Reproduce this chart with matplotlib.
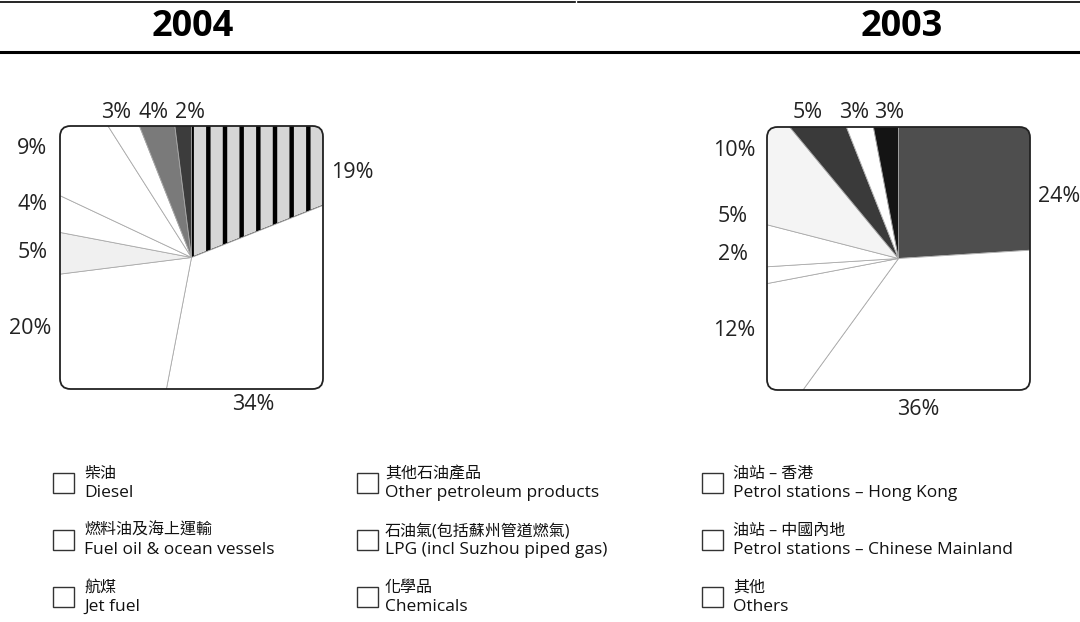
import matplotlib as mpl
import matplotlib.pyplot as plt
from matplotlib.patches import FancyBboxPatch, Rectangle
from matplotlib.lines import Line2D

# data
cats_en = ['Diesel', 'Fuel oil & ocean vessels', 'Jet fuel',
           'Other petroleum products', 'LPG (incl Suzhou piped gas)', 'Chemicals',
           'Petrol stations – Hong Kong', 'Petrol stations – Chinese Mainland', 'Others']
cats_zh = ['柴油', '燃料油及海上運輸', '航煤',
           '其他石油產品', '石油氣(包括蘇州管道燃氣)', '化學品',
           '油站 – 香港', '油站 – 中國內地', '其他']
share_2004 = [19, 34, 20, 5, 4, 9, 3, 4, 2]
share_2003 = [24, 36, 12, 2, 5, 10, 5, 3, 3]

# look of the (scanned) wedges: facecolor, hatch
style_2004 = [('#d6d6d6', '|'), ('white', None), ('white', None), ('#f0f0f0', None),
              ('white', None), ('white', None), ('white', None), ('#7a7a7a', None),
              ('#3c3c3c', None)]
style_2003 = [('#4e4e4e', None), ('white', None), ('white', None), ('white', None),
              ('white', None), ('#f4f4f4', None), ('#3a3a3a', None), ('white', None),
              ('#141414', None)]

# where the percentage labels sit, in box units (box spans -1..1)
lab_2004 = [(1.22, 0.65), (0.47, -1.12), (-1.23, -0.54), (-1.21, 0.04), (-1.21, 0.40),
            (-1.21, 0.83), (-0.57, 1.10), (-0.29, 1.10), (-0.01, 1.10)]
lab_2003 = [(1.22, 0.47), (0.15, -1.15), (-1.25, -0.55), (-1.26, 0.03), (-1.26, 0.32),
            (-1.25, 0.82), (-0.69, 1.11), (-0.34, 1.11), (-0.07, 1.11)]

W, H = 1080, 622
mpl.rcParams['hatch.linewidth'] = 3.2
fig = plt.figure(figsize=(W / 100, H / 100), dpi=100)

latin = 'Open Sans'
mixed = ['Open Sans', 'Noto Sans CJK TC', 'DejaVu Sans']


def square_pie(left, top, size, values, styles, label_pos):
    ax = fig.add_axes([left / W, 1 - (top + size) / H, size / W, size / H])
    wedges, _ = ax.pie(values, startangle=90, counterclock=False, radius=1.6,
                       colors=[s[0] for s in styles],
                       wedgeprops=dict(linewidth=0.6, edgecolor='#aaaaaa'))
    ax.set_xlim(-1, 1)
    ax.set_ylim(-1, 1)
    ax.set_aspect('auto')
    box = FancyBboxPatch((-1, -1), 2, 2, boxstyle='round,pad=0,rounding_size=0.08',
                         transform=ax.transData, facecolor='none')
    for w, (fc, hatch) in zip(wedges, styles):
        if hatch:
            w.set_hatch(hatch)
            w.set_edgecolor('black')
            w.set_linewidth(0.8)
        w.set_clip_on(True)
        w.set_clip_path(box)
    ax.add_patch(FancyBboxPatch((-1, -1), 2, 2, boxstyle='round,pad=0,rounding_size=0.08',
                                facecolor='none', edgecolor='#222222', lw=1.3,
                                clip_on=False, zorder=5))
    for v, (u, y) in zip(values, label_pos):
        ax.text(u, y, f'{v}%', ha='center', va='center', fontsize=15.5,
                family=latin, color='#222222', clip_on=False)
    ax.axis('off')


square_pie(60, 126, 263, share_2004, style_2004, lab_2004)
square_pie(767, 127, 263, share_2003, style_2003, lab_2003)

# header band
for y, lw in [(1.5, 1.2), (51.5, 2.2)]:
    fig.add_artist(Line2D([0, 0.532], [1 - y / H] * 2, color='black', lw=lw))
    fig.add_artist(Line2D([0.535, 1], [1 - y / H] * 2, color='black', lw=lw))
fig.text(193 / W, 1 - 27 / H, '2004', ha='center', va='center', fontsize=26,
         fontweight='bold', family=latin)
fig.text(902 / W, 1 - 27 / H, '2003', ha='center', va='center', fontsize=26,
         fontweight='bold', family=latin)

# legend, three columns
box_x = [53, 357, 702]
text_x = [84, 385, 733]
for i, (en, zh) in enumerate(zip(cats_en, cats_zh)):
    col, row = divmod(i, 3)
    yc = 474 + 57 * row
    ye = yc + 19
    fig.add_artist(Rectangle((box_x[col] / W, 1 - ye / H), 21 / W, (ye - yc + 1) / H,
                             transform=fig.transFigure, facecolor='white',
                             edgecolor='#333333', lw=1.0))
    fig.text(text_x[col] / W, 1 - yc / H, zh, ha='left', va='center', fontsize=11.5,
             family=mixed, color='#111111')
    fig.text(text_x[col] / W, 1 - ye / H, en, ha='left', va='center', fontsize=12.5,
             family=mixed, color='#111111')

plt.savefig('out.png', dpi=100)
